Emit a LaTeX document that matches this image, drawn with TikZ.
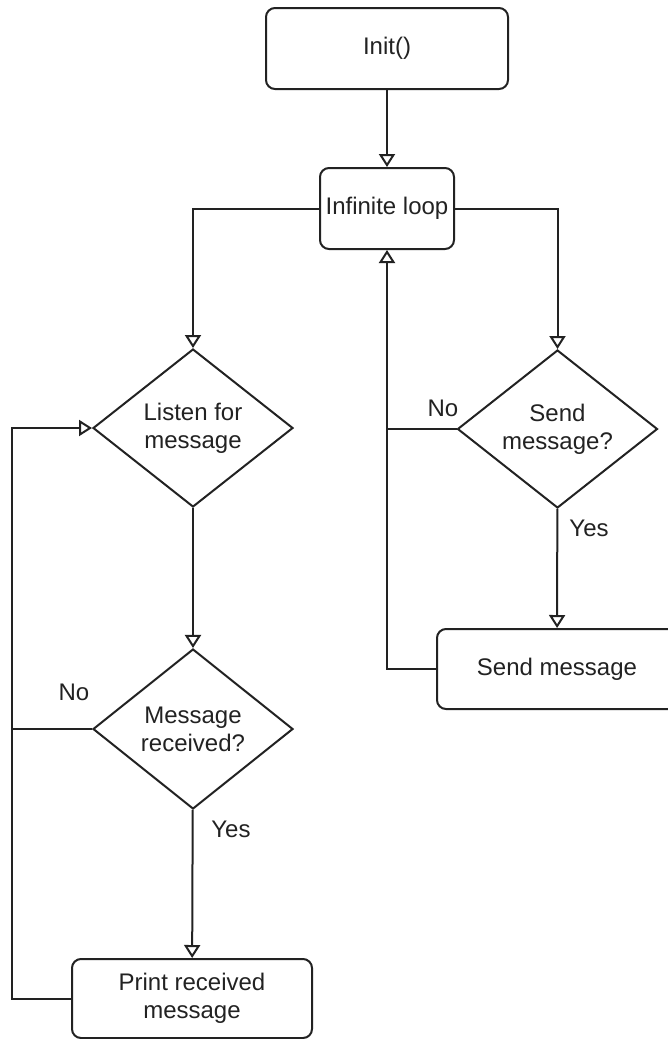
\documentclass[tikz,border=0pt]{standalone}
\usepackage{fontspec}
\setmainfont{Liberation Sans}
\usetikzlibrary{arrows.meta,shapes.geometric}
\definecolor{ink}{HTML}{222222}
\begin{document}
\begin{tikzpicture}[x=0.5pt,y=-0.5pt,
  font=\fontsize{12}{14}\selectfont,
  every node/.style={text=ink},
  procbox/.style={draw=ink,line width=1pt,rounded corners=4.5pt,align=center,inner sep=0pt},
  decision/.style={draw=ink,line width=1pt,diamond,aspect=1.27,inner sep=0pt,
    minimum width=100pt,minimum height=79pt,align=center},
  link/.style={draw=ink,line width=1pt},
  flow/.style={link,-{Triangle[open,length=6.5pt,width=8pt]}},
  tag/.style={inner sep=0pt}]
\useasboundingbox (0,0) rectangle (668,1039);

% process boxes
\node[procbox,minimum width=121pt,minimum height=40.5pt] (init) at (387,48.5) {Init()};
\node[procbox,minimum width=67pt,minimum height=40.5pt] (loop) at (387,208.5) {Infinite loop};
\node[procbox,minimum width=120pt,minimum height=40pt] (sendbox) at (557,669) {Send message};
\node[procbox,minimum width=120pt,minimum height=39.5pt] (print) at (192,998.5) {Print received\\message};

% decisions
\node[decision] (listen) at (193,428) {Listen for\\message};
\node[decision,minimum height=80pt] (recv) at (193,729) {Message\\received?};
\node[decision] (ask) at (557.5,429) {Send\\message?};

% loop return columns
\coordinate (leftcol) at (12,0);
\coordinate (midcol) at (387,0);

% connectors
\draw[flow] (init) -- (loop);
\draw[flow] (loop.west) -| (listen.north);
\draw[flow] (loop.east) -| (ask.north);
\draw[flow] (listen) -- (recv);
\draw[flow] (recv) -- (print);
\draw[flow] (ask) -- (sendbox);
\draw[link] (recv.west) -- (recv.west -| leftcol);
\draw[flow] (print.west) -- (print.west -| leftcol) |- (listen.west);
\draw[link] (ask.west) -- (ask.west -| midcol);
\draw[flow] (sendbox.west) -| (loop.south);

% branch labels
\node[tag] (noleft) at (74,692) {No};
\node[tag] (yesleft) at (231,829) {Yes};
\node[tag] (noright) at (443,408) {No};
\node[tag] (yesright) at (589,528) {Yes};
\end{tikzpicture}
\end{document}
